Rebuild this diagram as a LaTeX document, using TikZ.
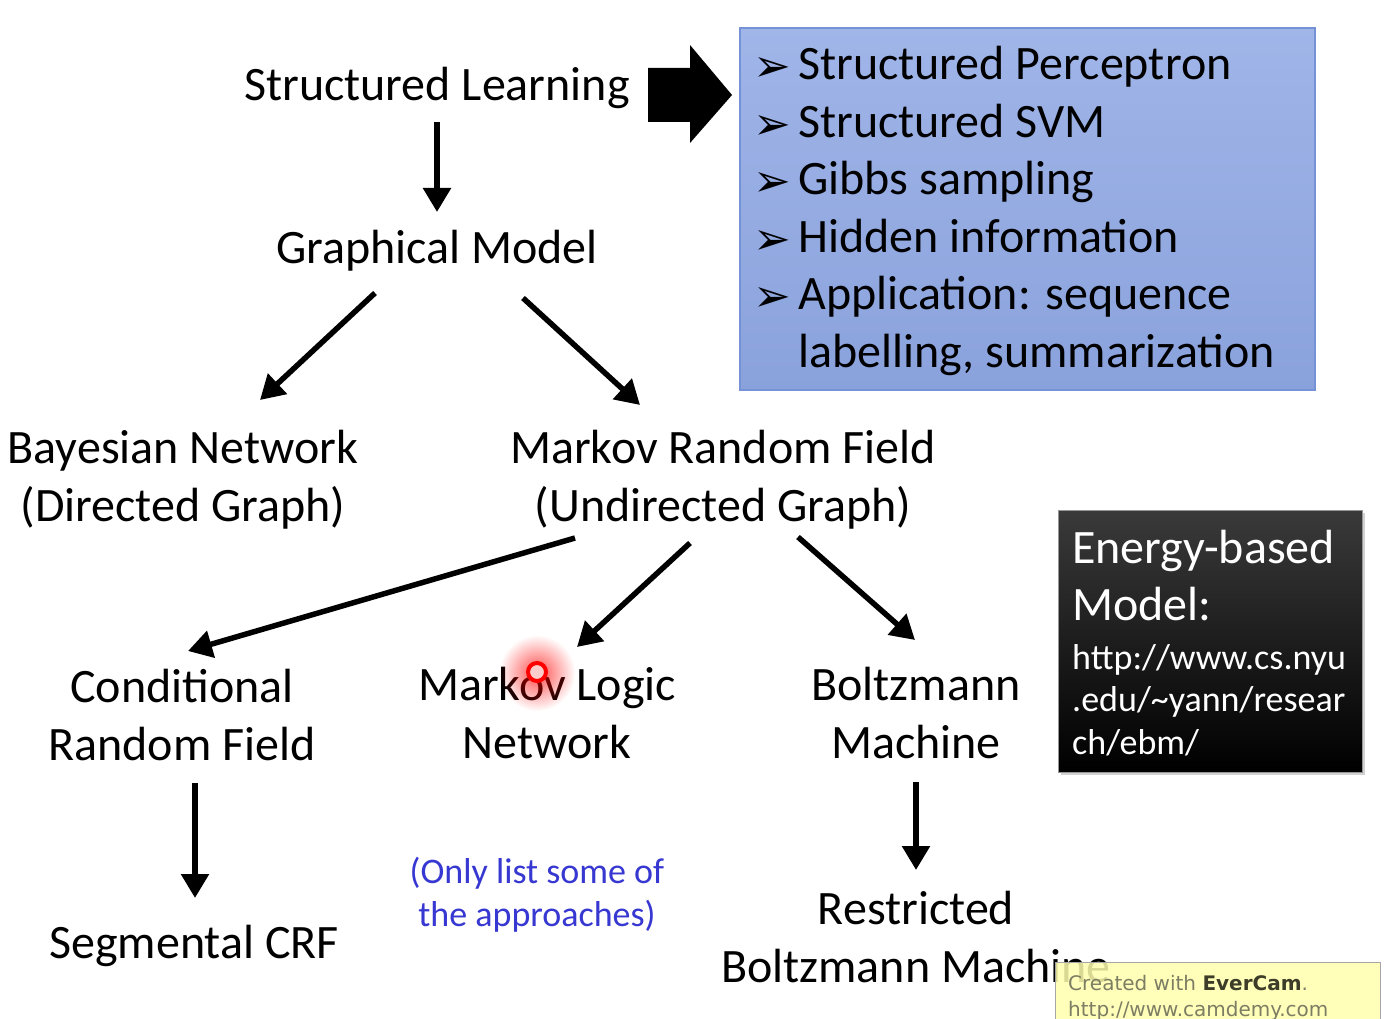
\documentclass[tikz,border=0pt]{standalone}
\usepackage{fontspec}
\setmainfont{Carlito}
\newfontfamily\dejavu{DejaVu Sans}
\usetikzlibrary{arrows.meta,calc,fadings,shadows}
\definecolor{boxtop}{RGB}{160,181,232}
\definecolor{boxbot}{RGB}{138,162,220}
\definecolor{boxline}{RGB}{118,146,214}
\definecolor{notecol}{RGB}{55,55,210}
\definecolor{wmfill}{RGB}{255,255,175}
\tikzfading[name=glowfade, inner color=transparent!0, outer color=transparent!100]
\newcommand{\bul}{\makebox[41pt][l]{\hspace*{-4pt}\raisebox{-2pt}{\dejavu\fontsize{45}{45}\selectfont ➢}}}
\begin{document}
\begin{tikzpicture}[x=1pt,y=-1pt,
  lbl/.style={inner sep=0,align=center,font=\fontsize{48}{57.5}\selectfont},
  arr/.style={line width=5.5pt,-{Triangle[length=24pt,width=27pt]}},
]
\useasboundingbox (0,0) rectangle (1384,1019);
\fill[white] (0,0) rectangle (1384,1019);

% text nodes (base = baseline of the last line)
\node[lbl,anchor=base] (sl) at (437,101) {Structured Learning};
\node[lbl,anchor=base] (gm) at (437,263) {Graphical Model};
\node[lbl,anchor=base] (bn) at (183,521) {Bayesian Network\\(Directed Graph)};
\node[lbl,anchor=base] (mrf) at (723,521) {Markov Random Field\\(Undirected Graph)};
\node[lbl,anchor=base] (crf) at (182,760) {Conditional\\Random Field};
\node[lbl,anchor=base] (mln) at (547,758) {Markov Logic\\Network};
\node[lbl,anchor=base] (bm) at (916,758) {Boltzmann\\Machine};
\node[lbl,anchor=base] (scrf) at (194,958) {Segmental CRF};
\node[lbl,anchor=base] (rbm) at (916,982) {Restricted\\Boltzmann Machine};
\node[lbl,anchor=base,font=\fontsize{36}{43}\selectfont,text=notecol] (note) at (537,926) {(Only list some of\\the approaches)};

% connectors
\draw[arr] ($(sl.base)+(0,21)$) -- ($(gm.base)+(0,-51)$);
\draw[arr] ($(gm.base)+(-62,30)$) -- ($(bn.base)+(77,-121)$);
\draw[arr] ($(gm.base)+(86,35)$) -- ($(mrf.base)+(-83,-116)$);
\draw[arr] ($(mrf.base)+(-148,17)$) -- ($(crf.base)+(6,-109)$);
\draw[arr] ($(mrf.base)+(-33,22)$) -- ($(mln.base)+(30,-111)$);
\draw[arr] ($(mrf.base)+(75,16)$) -- ($(bm.base)+(-1,-118)$);
\draw[arr] ($(crf.base)+(13,23)$) -- ($(scrf.base)+(1,-60)$);
\draw[arr] ($(bm.base)+(0,24)$) -- ($(rbm.base)+(0,-112)$);

% blue box
\node[draw=boxline,line width=1.5pt,top color=boxtop,bottom color=boxbot,
      minimum width=575pt,minimum height=362pt,inner sep=0] (box) at (1027.5,209) {};
\node[anchor=base west,align=left,inner sep=0,font=\fontsize{48}{57.5}\selectfont] (items) at (757,367)
  {\bul Structured Perceptron\\
   \bul Structured SVM\\
   \bul Gibbs sampling\\
   \bul Hidden information\\
   \bul Application: sequence\\
   \hspace*{41pt}labelling, summarization};

% block arrow
\fill[black] (648,68) -- (690,68) -- (690,45) -- (732,95) -- (690,143) -- (690,122) -- (648,122) -- cycle;

% energy-based model box
\node[top color={rgb,255:red,58;green,58;blue,58},bottom color=black,draw={rgb,255:red,150;green,150;blue,150},
      line width=1pt,minimum width=304pt,minimum height=262pt,inner sep=0,
      drop shadow={shadow xshift=3pt,shadow yshift=-3pt,opacity=0.35}] (ebm) at (1210,641) {};
\node[anchor=base west,align=left,inner sep=0,text=white,font=\fontsize{48}{57}\selectfont] (ebmt) at (1072,620)
  {Energy-based\\Model:};
\node[anchor=base west,align=left,inner sep=0,text=white,font=\fontsize{36}{42.5}\selectfont] (ebmu) at (1072,754)
  {http://www.cs.nyu\\.edu/\textasciitilde yann/resear\\ch/ebm/};

% red pointer
\fill[red,path fading=glowfade,opacity=0.7] (537,673) circle (38);
\draw[red,line width=4pt,fill=red!20] (537,672) circle (9);

% watermark
\fill[wmfill,opacity=0.85] (1055,962) rectangle (1380,1030);
\draw[gray!70,line width=1pt] (1055,1030) -- (1055,962) -- (1380,962) -- (1380,1030);
\node[anchor=base west,inner sep=0,font=\dejavu\fontsize{20}{24}\selectfont,text={rgb,255:red,125;green,125;blue,100}] (wm1) at (1068,990)
  {Created with \textcolor[RGB]{60,60,40}{\bfseries EverCam}.};
\node[anchor=base west,inner sep=0,font=\dejavu\fontsize{20}{24}\selectfont,text={rgb,255:red,125;green,125;blue,100}] (wm2) at (1068,1016)
  {http://www.camdemy.com};
\end{tikzpicture}
\end{document}
